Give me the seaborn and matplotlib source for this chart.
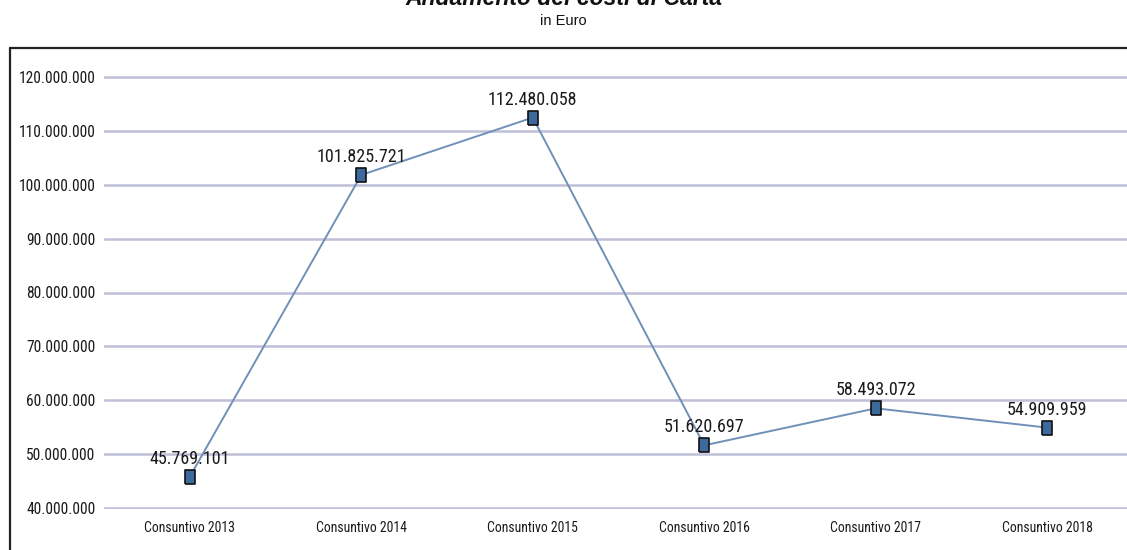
import matplotlib
matplotlib.use("Agg")
import matplotlib.pyplot as plt
import matplotlib.ticker as mticker
from matplotlib import font_manager
import seaborn as sns
import pandas as pd

# Data
categories = ["Consuntivo 2013", "Consuntivo 2014", "Consuntivo 2015",
              "Consuntivo 2016", "Consuntivo 2017", "Consuntivo 2018"]
costs = [45769101, 101825721, 112480058, 51620697, 58493072, 54909959]
y_ticks = [40e6, 50e6, 60e6, 70e6, 80e6, 90e6, 100e6, 110e6, 120e6]

title = "Andamento dei costi di Carta"
subtitle = "in Euro"

sns.set_theme(style="white")

# Prefer a condensed face for the numbers, if one is available
fonts = font_manager.fontManager.ttflist
names = {f.name for f in fonts}
stretch = "normal"
if "Liberation Sans Narrow" in names:
    narrow = "Liberation Sans Narrow"
elif "Roboto Condensed" in names:
    narrow = "Roboto Condensed"
elif any(f.name == "DejaVu Sans" and f.stretch == "condensed" for f in fonts):
    narrow, stretch = "DejaVu Sans", "condensed"
else:
    narrow = "Roboto"
plt.rcParams["font.family"] = [narrow, "DejaVu Sans"]
plt.rcParams["font.stretch"] = stretch


def it_fmt(v, _pos=None):
    return f"{int(round(v)):,}".replace(",", ".")


df = pd.DataFrame({"categoria": categories, "costo": costs})

fig = plt.figure(figsize=(11.27, 5.5), dpi=100)
W, H = 1127, 550
ax = fig.add_axes([104 / W, 1 - 509 / H, 1029 / W, (509 - 76) / H])

# Upright rectangular marker
rect_marker = [(-0.75, -1), (0.75, -1), (0.75, 1), (-0.75, 1), (-0.75, -1)]

sns.lineplot(data=df, x="categoria", y="costo", ax=ax, color="#7090b8",
             linewidth=1.4, marker=rect_marker, markersize=10,
             markerfacecolor="#3d6a9c", markeredgecolor="#111111",
             markeredgewidth=1.2, zorder=3)

ax.set_xlim(-0.5, len(categories) - 0.5)
ax.set_ylim(39.8e6, 120.2e6)
ax.set_yticks(y_ticks)
ax.yaxis.set_major_formatter(mticker.FuncFormatter(it_fmt))
ax.set_xlabel("")
ax.set_ylabel("")

ax.grid(axis="y", color="#bfbfd8", linewidth=1.8)
ax.grid(axis="x", visible=False)
ax.set_axisbelow(True)
for s in ax.spines.values():
    s.set_visible(False)
ax.tick_params(axis="y", labelsize=11.2, pad=6, length=0, colors="#1a1a1a")
ax.tick_params(axis="x", labelsize=9.9, pad=9, length=0, colors="#1a1a1a")

for i, v in enumerate(costs):
    ax.annotate(it_fmt(v), (i, v), xytext=(0, 6.5), textcoords="offset points",
                ha="center", va="bottom", fontsize=13, color="#1a1a1a",
                zorder=4)

# Outer frame (top and left edges)
fig.add_artist(plt.Line2D([10 / W, 10 / W], [0, 1 - 48 / H], color="#222222",
                          linewidth=1.6, transform=fig.transFigure))
fig.add_artist(plt.Line2D([10 / W, 1], [1 - 48 / H, 1 - 48 / H], color="#222222",
                          linewidth=1.6, transform=fig.transFigure))

fig.text(0.5, 1 - 5 / H, title, ha="center", va="baseline", fontsize=16.5,
         fontweight="bold", fontstyle="italic", fontstretch="normal",
         family=["Liberation Sans", "DejaVu Sans"], color="#111111")
fig.text(0.5, 1 - 21 / H, subtitle, ha="center", va="center", fontsize=10.5,
         fontstretch="normal", family=["Liberation Sans", "DejaVu Sans"],
         color="#111111")

fig.savefig("out.png", dpi=100)
